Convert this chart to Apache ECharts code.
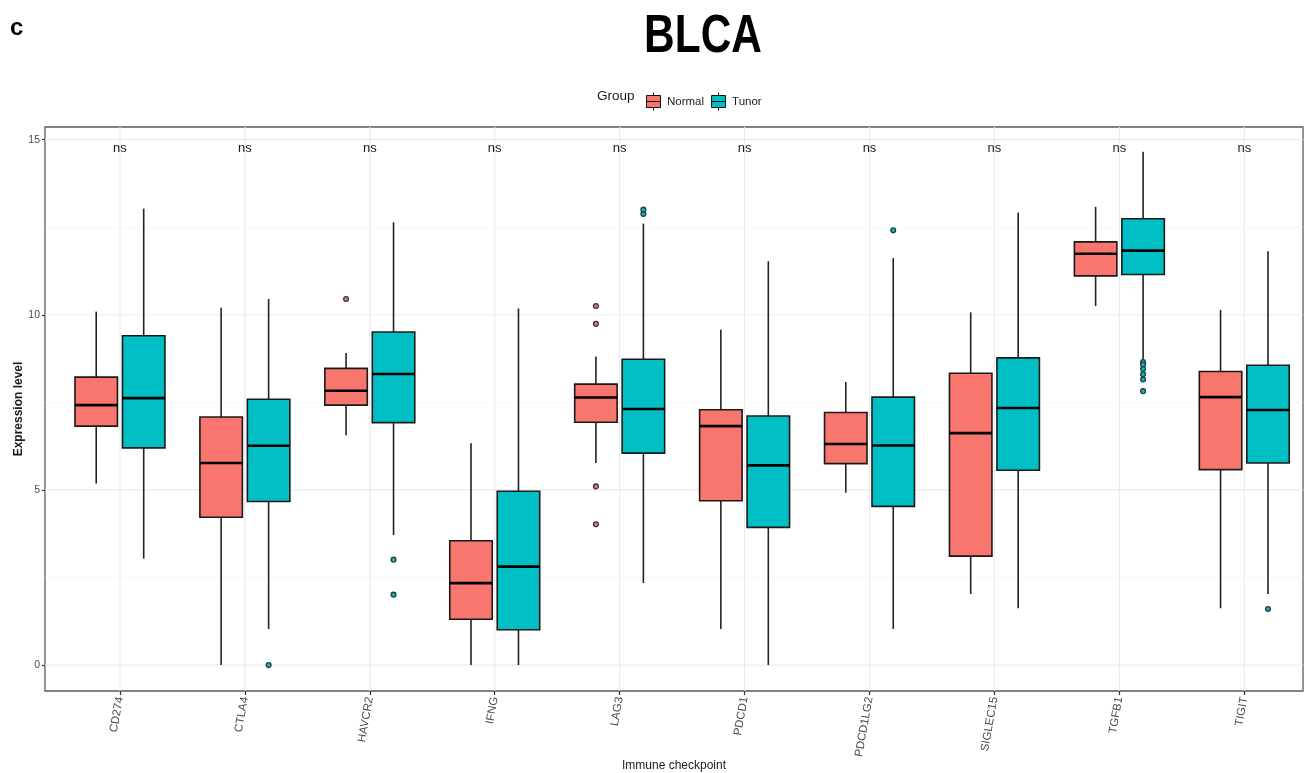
<!DOCTYPE html>
<html><head><meta charset="utf-8">
<script src="https://cdn.jsdelivr.net/npm/echarts@6/dist/echarts.min.js"></script>
<style>html,body{margin:0;padding:0;background:#fff}#c{width:1308px;height:773px}</style>
</head><body><div id="c"></div>
<script>
const categories = ['CD274','CTLA4','HAVCR2','IFNG','LAG3','PDCD1','PDCD1LG2','SIGLEC15','TGFB1','TIGIT'];
const groupNames = ['Normal','Tunor'];
// [lower whisker, Q1, median, Q3, upper whisker]
const normalBoxes = [
  [5.18, 6.82, 7.42, 8.22, 10.09],
  [0.00, 4.22, 5.77, 7.08, 10.20],
  [6.56, 7.42, 7.83, 8.47, 8.91],
  [0.00, 1.31, 2.34, 3.55, 6.33],
  [5.77, 6.93, 7.64, 8.02, 8.81],
  [1.03, 4.69, 6.82, 7.29, 9.57],
  [4.92, 5.75, 6.31, 7.21, 8.08],
  [2.03, 3.11, 6.62, 8.33, 10.07],
  [10.25, 11.11, 11.74, 12.08, 13.08],
  [1.62, 5.58, 7.65, 8.38, 10.14]
];
const tumorBoxes = [
  [3.04, 6.20, 7.62, 9.40, 13.03],
  [1.03, 4.67, 6.26, 7.59, 10.45],
  [3.71, 6.92, 8.31, 9.51, 12.64],
  [0.00, 1.01, 2.81, 4.96, 10.18],
  [2.34, 6.05, 7.31, 8.73, 12.60],
  [0.00, 3.93, 5.70, 7.11, 11.53],
  [1.03, 4.53, 6.27, 7.65, 11.62],
  [1.62, 5.56, 7.34, 8.77, 12.92],
  [8.70, 11.15, 11.83, 12.74, 14.65],
  [2.03, 5.77, 7.28, 8.56, 11.81]
];
// [category index, value]
const normalOutliers = [[2,10.45],[4,10.25],[4,9.74],[4,5.10],[4,4.02]];
const tumorOutliers = [[1,0.00],[2,3.01],[2,2.01],[4,12.88],[4,13.00],[6,12.41],
  [8,8.65],[8,8.58],[8,8.45],[8,8.30],[8,8.15],[8,7.82],[9,1.60]];
const sigLabels = ['ns','ns','ns','ns','ns','ns','ns','ns','ns','ns'];
const sigLabelY = 14.75;
const yTickValues = [0,5,10,15];
const yMinorValues = [2.5,7.5,12.5];

const COLORS = ['#F8766D','#00BFC4'];
const OFFSETS = [-0.19, 0.19];
const BOX_W = 0.34;
const FONT = 'Liberation Sans, Arial, sans-serif';

function boxSeries(name, boxes, gi) {
  return {
    name: name, type: 'custom', z: 5,
    itemStyle: {color: COLORS[gi]},
    encode: {x: 0, y: [1,2,3,4,5]},
    data: boxes.map((b, i) => [i].concat(b)),
    renderItem: function (params, api) {
      const x = api.value(0) + OFFSETS[gi];
      const lo = api.coord([x, api.value(1)]);
      const q1 = api.coord([x, api.value(2)]);
      const md = api.coord([x, api.value(3)]);
      const q3 = api.coord([x, api.value(4)]);
      const hi = api.coord([x, api.value(5)]);
      const l = api.coord([x - BOX_W/2, 0])[0];
      const r = api.coord([x + BOX_W/2, 0])[0];
      const wStyle = {stroke: '#222', lineWidth: 1.6};
      return {type: 'group', children: [
        {type: 'line', shape: {x1: md[0], y1: hi[1], x2: md[0], y2: q3[1]}, style: wStyle},
        {type: 'line', shape: {x1: md[0], y1: q1[1], x2: md[0], y2: lo[1]}, style: wStyle},
        {type: 'rect', shape: {x: l, y: q3[1], width: r - l, height: q1[1] - q3[1]},
          style: {fill: COLORS[gi], stroke: '#1a1a1a', lineWidth: 1.6}},
        {type: 'line', shape: {x1: l, y1: md[1], x2: r, y2: md[1]}, style: {stroke: '#000', lineWidth: 2.6}}
      ]};
    }
  };
}
function outlierSeries(name, pts, gi) {
  return {
    name: name, type: 'custom', z: 6,
    itemStyle: {color: COLORS[gi]},
    encode: {x: 0, y: 1},
    data: pts,
    renderItem: function (params, api) {
      const p = api.coord([api.value(0) + OFFSETS[gi], api.value(1)]);
      return {type: 'circle', shape: {cx: p[0], cy: p[1], r: 2.4},
        style: {fill: COLORS[gi], stroke: '#2b3b3b', lineWidth: 1.3}};
    }
  };
}
const gridSeries = {
  type: 'custom', z: 1, silent: true,
  data: [].concat(
    yTickValues.map(v => [0, v, 0]),
    yMinorValues.map(v => [0, v, 1]),
    categories.map((c, i) => [i, 0, 2])
  ),
  encode: {x: 0, y: 1},
  renderItem: function (params, api) {
    const cs = params.coordSys;
    const kind = api.value(2);
    if (kind === 2) {
      const x = api.coord([api.value(0), 0])[0];
      return {type: 'line', shape: {x1: x, y1: cs.y, x2: x, y2: cs.y + cs.height},
        style: {stroke: '#EBEBEB', lineWidth: 1.1}};
    }
    const y = api.coord([0, api.value(1)])[1];
    return {type: 'line', shape: {x1: cs.x, y1: y, x2: cs.x + cs.width, y2: y},
      style: {stroke: kind === 0 ? '#EBEBEB' : '#F4F4F4', lineWidth: kind === 0 ? 1.1 : 0.7}};
  }
};
const sigSeries = {
  type: 'custom', z: 7, silent: true,
  data: sigLabels.map((t, i) => [i, sigLabelY]),
  encode: {x: 0, y: 1},
  renderItem: function (params, api) {
    const p = api.coord([api.value(0), api.value(1)]);
    return {type: 'text', x: p[0], y: p[1],
      style: {text: sigLabels[params.dataIndex], fontSize: 13, fontFamily: FONT,
        fill: '#1a1a1a', align: 'center', verticalAlign: 'middle'}};
  }
};

const chart = echarts.init(document.getElementById('c'), null, {renderer: 'canvas'});
chart.setOption({
  animation: false,
  backgroundColor: '#fff',
  graphic: [
    {type: 'text', x: 703, y: 37, scaleX: 0.8, style: {text: 'BLCA', fontSize: 53, fontWeight: 'bold', fontFamily: FONT, fill: '#000', align: 'center', verticalAlign: 'middle'}},
    {type: 'text', left: 10, top: 16, style: {text: 'c', fontSize: 24, fontWeight: 'bold', fontFamily: FONT, fill: '#000'}},
    {type: 'text', left: 597, top: 89, style: {text: 'Group', fontSize: 13.5, fontFamily: FONT, fill: '#1a1a1a'}}
  ],
  legend: {
    left: 641, top: 87, itemWidth: 15, itemHeight: 18, itemGap: 7,
    data: groupNames.map(n => ({name: n,
      icon: 'path://M7 0 L7 3 M0 3 L14 3 L14 15 L0 15 Z M0 9 L14 9 M7 15 L7 18'})),
    itemStyle: {borderColor: '#111', borderWidth: 1},
    textStyle: {fontSize: 11.5, fontFamily: FONT, color: '#1a1a1a', padding: [0,0,0,1]}
  },
  grid: {left: 45, right: 5, top: 127, bottom: 82, outerBoundsMode: 'none', containLabel: false,
    show: true, borderColor: '#5a5a5a', borderWidth: 1.3, backgroundColor: 'transparent'},
  xAxis: {
    type: 'value', min: -0.6, max: 9.47,
    name: 'Immune checkpoint', nameLocation: 'middle', nameGap: 69, nameMoveOverlap: false,
    nameTextStyle: {fontSize: 12, fontFamily: FONT, color: '#1a1a1a'},
    axisLine: {show: false, onZero: false},
    splitLine: {show: false},
    axisTick: {show: true, customValues: categories.map((c, i) => i), length: 4, lineStyle: {color: '#333', width: 1.2}},
    axisLabel: {customValues: categories.map((c, i) => i), formatter: v => categories[Math.round(v)] || '',
      rotate: 80, fontSize: 11.5, fontFamily: FONT, color: '#4d4d4d', margin: 6}
  },
  yAxis: {
    type: 'value', min: -0.74, max: 15.36,
    name: 'Expression level', nameLocation: 'middle', nameGap: 20, nameMoveOverlap: false,
    nameTextStyle: {fontSize: 12, fontWeight: 'bold', fontFamily: FONT, color: '#1a1a1a'},
    axisLine: {show: false, onZero: false},
    splitLine: {show: false},
    axisTick: {show: true, customValues: yTickValues, length: 3, lineStyle: {color: '#333', width: 1.2}},
    axisLabel: {customValues: yTickValues, fontSize: 10.5, fontFamily: FONT, color: '#4d4d4d', margin: 5}
  },
  series: [
    gridSeries,
    boxSeries(groupNames[0], normalBoxes, 0),
    boxSeries(groupNames[1], tumorBoxes, 1),
    outlierSeries(groupNames[0] + ' outliers', normalOutliers, 0),
    outlierSeries(groupNames[1] + ' outliers', tumorOutliers, 1),
    sigSeries
  ]
});
</script></body></html>
